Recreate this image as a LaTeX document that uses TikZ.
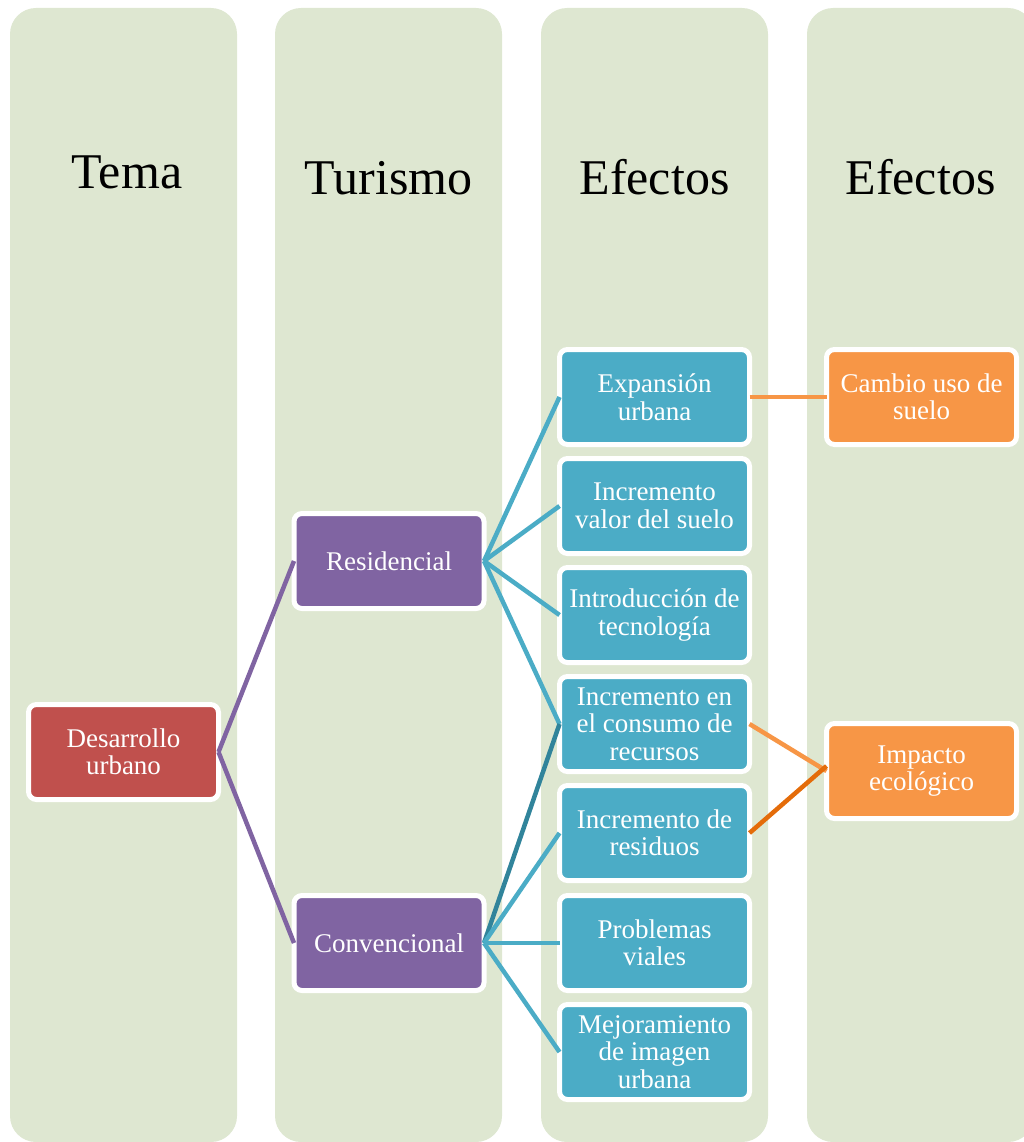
\documentclass[tikz,border=0pt]{standalone}
\usepackage{fontspec}
\setmainfont{Liberation Serif}
\definecolor{colbg}{HTML}{DEE7D1}
\definecolor{redbox}{HTML}{C0504D}
\definecolor{purplebox}{HTML}{8064A2}
\definecolor{bluebox}{HTML}{4BACC6}
\definecolor{orangebox}{HTML}{F79646}
\definecolor{darkorange}{HTML}{E46C0A}
\definecolor{darkteal}{HTML}{31849B}
\begin{document}
\begin{tikzpicture}[x=1pt,y=-1pt,
  column/.style={fill=colbg, draw=none, rounded corners=26pt},
  header/.style={anchor=base, font=\fontsize{50}{60}\selectfont, text=black},
  box/.style={rounded corners=8pt, draw=white, line width=5pt,
    minimum width=190pt, minimum height=95pt, inner sep=0pt, outer sep=0pt,
    text=white, align=center, font=\fontsize{27}{27.5}\selectfont},
  topic/.style={box, fill=redbox},
  kind/.style={box, fill=purplebox},
  effect/.style={box, fill=bluebox},
  result/.style={box, fill=orangebox},
  link/.style={line width=4.5pt},
]
\useasboundingbox (0,0) rectangle (1024,1142);
\clip (0,0) rectangle (1024,1142);

% column backgrounds
\fill[column] (10,8) rectangle (237,1142);
\fill[column] (275,8) rectangle (502,1142);
\fill[column] (541,8) rectangle (768,1142);
\fill[column] (807,8) rectangle (1034,1142);

% column headers
\node[header] (h1) at (127,189) {Tema};
\node[header] (h2) at (388.5,194) {Turismo};
\node[header] (h3) at (654.5,194) {Efectos};
\node[header] (h4) at (920.5,194) {Efectos};

% nodes
\node[topic] (dev) at (123.5,752) {Desarrollo\\urbano};

\node[kind] (res) at (389,561) {Residencial};
\node[kind] (conv) at (389,943) {Convencional};

\node[effect] (e1) at (654.5,397) {Expansión\\urbana};
\node[effect] (e2) at (654.5,506) {Incremento\\valor del suelo};
\node[effect] (e3) at (654.5,615) {Introducción de\\tecnología};
\node[effect] (e4) at (654.5,724) {Incremento en\\el consumo de\\recursos};
\node[effect] (e5) at (654.5,833) {Incremento de\\residuos};
\node[effect] (e6) at (654.5,943) {Problemas\\viales};
\node[effect] (e7) at (654.5,1052) {Mejoramiento\\de imagen\\urbana};

\node[result] (r1) at (921.5,397) {Cambio uso de\\suelo};
\node[result] (r2) at (921.5,771) {Impacto\\ecológico};

% connectors
\draw[link, purplebox] (dev.east) -- (res.west);
\draw[link, purplebox] (dev.east) -- (conv.west);

\draw[link, bluebox] (res.east) -- (e1.west);
\draw[link, bluebox] (res.east) -- (e2.west);
\draw[link, bluebox] (res.east) -- (e3.west);
\draw[link, bluebox] (res.east) -- (e4.west);

\draw[link, darkteal] (conv.east) -- (e4.west);
\draw[link, bluebox] (conv.east) -- (e5.west);
\draw[link, bluebox] (conv.east) -- (e6.west);
\draw[link, bluebox] (conv.east) -- (e7.west);

\draw[link, orangebox] (e1.east) -- (r1.west);
\draw[link, orangebox] (e4.east) -- (r2.west);
\draw[link, darkorange] (e5.east) -- ([yshift=5pt]r2.west);
\end{tikzpicture}
\end{document}
